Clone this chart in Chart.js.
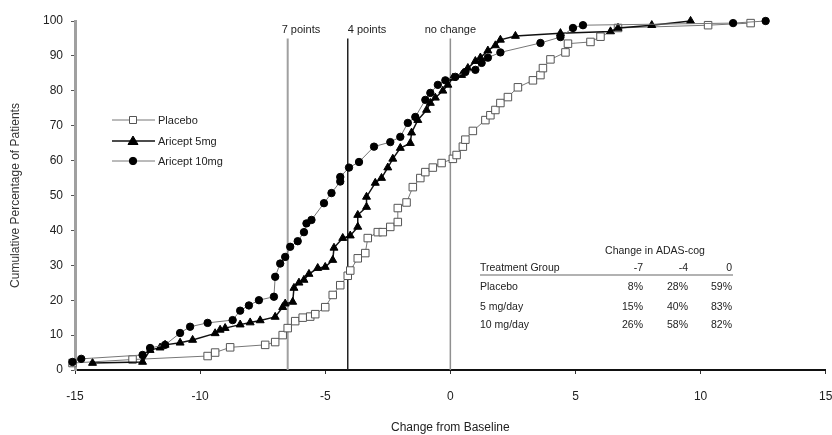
<!DOCTYPE html>
<html>
<head>
  <script src="https://cdn.jsdelivr.net/npm/chart.js"></script>
  <style>
    html, body { margin: 0; padding: 0; background: #fff; }
    #wrap { width: 832px; height: 435px; }
  </style>
</head>
<body>
  <div id="wrap"><canvas id="cdfChart" width="832" height="435"></canvas></div>
  <script>
    // series values
    const placeboX = [-15.1, -12.7, -9.7, -9.4, -8.8, -7.4, -7.0, -6.7, -6.5, -6.2, -5.9, -5.6, -5.4, -5.0, -4.7, -4.4, -4.1, -4.0, -3.7, -3.4, -3.3, -2.9, -2.7, -2.4, -2.1, -2.1, -1.75, -1.5, -1.2, -1.0, -0.7, -0.35, 0.1, 0.25, 0.5, 0.6, 0.9, 1.4, 1.6, 1.8, 2.0, 2.3, 2.7, 3.3, 3.6, 3.7, 4.0, 4.6, 4.7, 5.6, 6.0, 6.7, 10.3, 12.0];
    const placeboY = [2, 3, 4, 5, 6.5, 7.2, 8, 10, 12, 14, 15, 15.3, 16, 18, 21.5, 24.3, 27, 28.5, 32, 33.5, 37.8, 39.5, 39.5, 41, 42.4, 46.4, 48, 52.4, 55, 56.7, 58, 59.3, 60.5, 61.6, 64, 66, 68.5, 71.6, 73, 74.5, 76.5, 78.2, 81, 83, 84.5, 86.5, 89, 91, 93.5, 94, 95.5, 98, 98.8, 99.4];

    const mg5X = [-14.3, -12.3, -12.0, -11.6, -11.4, -10.8, -10.3, -9.4, -9.2, -9.0, -8.4, -8.0, -7.6, -7.0, -6.7, -6.6, -6.3, -6.25, -6.05, -5.85, -5.65, -5.3, -5.0, -4.7, -4.65, -4.3, -4.0, -3.7, -3.7, -3.35, -3.35, -3.0, -2.75, -2.5, -2.3, -2.0, -1.6, -1.55, -1.3, -0.95, -0.8, -0.6, -0.3, -0.1, 0.1, 0.45, 0.7, 1.0, 1.2, 1.5, 1.8, 2.0, 2.6, 4.4, 6.4, 6.7, 8.05, 9.6];
    const mg5Y = [2, 2.3, 5.7, 6.4, 7.2, 7.8, 8.6, 10.5, 11.5, 12, 13, 13.6, 14.2, 15.2, 18, 19, 19.5, 23.5, 25, 25.8, 27.5, 29.2, 29.5, 31.5, 35, 37.8, 38.5, 41, 44.4, 46.7, 49.6, 53.6, 55, 58, 60.5, 63.6, 65, 68, 71.6, 74.5, 76.5, 78, 80, 81.7, 83.7, 84.5, 86.5, 88.5, 89.5, 91.5, 93, 94.6, 95.7, 96.5, 97, 98, 98.8, 100];

    const mg10X = [-15.1, -14.75, -12.3, -12.0, -11.4, -10.8, -10.4, -9.7, -8.7, -8.4, -8.05, -7.65, -7.05, -7.0, -6.8, -6.6, -6.4, -6.1, -5.85, -5.75, -5.55, -5.05, -4.75, -4.4, -4.4, -4.05, -3.65, -3.05, -2.4, -2.0, -1.7, -1.4, -1.0, -0.8, -0.5, -0.2, 0.2, 0.6, 1.0, 1.25, 1.5, 2.0, 3.6, 4.4, 4.9, 5.3, 11.3, 12.6];
    const mg10Y = [2.3, 3.2, 4.3, 6.3, 7.2, 10.6, 12.4, 13.5, 14.3, 17, 18.5, 20, 21, 26.7, 30.5, 32.4, 35.3, 36.9, 39.5, 42, 43, 47.8, 50.7, 54, 55.3, 58, 59.6, 64, 65.3, 66.8, 70.8, 72.5, 77.4, 79.4, 81.7, 83, 84, 85.4, 86, 88, 89.5, 91, 93.7, 95.4, 98, 98.8, 99.4, 100];

    // reference lines (change in ADAS-cog)
    const refX = [-6.5, -4.1, 0];
    const refLabels = ['7 points', '4 points', 'no change'];
    const refTop = 95;

    const xTicks = [-15, -10, -5, 0, 5, 10, 15];
    const yTicks = [0, 10, 20, 30, 40, 50, 60, 70, 80, 90, 100];

    const seriesNames = ['Placebo', 'Aricept 5mg', 'Aricept 10mg'];

    // inset table
    const tableTitle = 'Change in ADAS-cog';
    const tableHead = ['Treatment Group', '-7', '-4', '0'];
    const tableGroups = ['Placebo', '5 mg/day', '10 mg/day'];
    const tableValues = [[8, 28, 59], [15, 40, 83], [26, 58, 82]];

    const FONT = 'Liberation Sans, Arial, sans-serif';

    function pts(xs, ys) {
      return xs.map((x, i) => ({ x: x, y: ys[i] }));
    }

    const curveStyle = [
      { line: '#777', width: 1, style: 'rect', radius: 5.3, fill: '#fff', border: '#555' },
      { line: '#111', width: 1.5, style: 'triangle', radius: 4.6, fill: '#000', border: '#000' },
      { line: '#777', width: 1, style: 'circle', radius: 3.7, fill: '#000', border: '#000' }
    ];

    const curves = [pts(placeboX, placeboY), pts(mg5X, mg5Y), pts(mg10X, mg10Y)].map((d, i) => ({
      label: seriesNames[i],
      data: d,
      showLine: true,
      clip: false,
      borderColor: curveStyle[i].line,
      borderWidth: curveStyle[i].width,
      pointStyle: curveStyle[i].style,
      pointRadius: curveStyle[i].radius,
      pointBackgroundColor: curveStyle[i].fill,
      pointBorderColor: curveStyle[i].border,
      pointBorderWidth: 1,
      tension: 0,
      order: 2 - i
    }));

    const refColors = ['#a0a0a0', '#222', '#909090'];
    const refWidths = [2, 1.5, 1.5];
    const refSets = refX.map((x, i) => ({
      label: refLabels[i],
      data: [{ x: x, y: 0 }, { x: x, y: refTop }],
      showLine: true,
      borderColor: refColors[i],
      borderWidth: refWidths[i],
      pointRadius: 0,
      order: 10
    }));

    // draws reference line labels, the legend and the table inside the plot
    const overlay = {
      id: 'overlay',
      afterDatasetsDraw(chart) {
        const ctx = chart.ctx;
        const xs = chart.scales.x, ys = chart.scales.y;
        ctx.save();
        ctx.fillStyle = '#222';
        ctx.font = '11px ' + FONT;
        ctx.textBaseline = 'middle';
        const labelY = ys.getPixelForValue(refTop) - 8;
        refX.forEach((x, i) => {
          const px = xs.getPixelForValue(x);
          if (i === 2) {
            ctx.textAlign = 'center';
            ctx.fillText(refLabels[i], px, labelY);
          } else {
            ctx.textAlign = 'left';
            ctx.fillText(refLabels[i], px - (i === 0 ? 6 : 0), labelY);
          }
        });

        // legend
        const legX = 112, legY = [120, 141, 161];
        seriesNames.forEach((name, i) => {
          const s = curveStyle[i];
          const y = legY[i];
          ctx.strokeStyle = s.line;
          ctx.lineWidth = s.width;
          ctx.beginPath();
          ctx.moveTo(legX, y);
          ctx.lineTo(legX + 43, y);
          ctx.stroke();
          const cx = legX + 21;
          ctx.fillStyle = s.fill;
          ctx.strokeStyle = s.border;
          ctx.lineWidth = 1;
          ctx.beginPath();
          if (s.style === 'rect') {
            ctx.rect(cx - 3.5, y - 3.5, 7, 7);
          } else if (s.style === 'triangle') {
            ctx.moveTo(cx, y - 5);
            ctx.lineTo(cx + 5, y + 3.5);
            ctx.lineTo(cx - 5, y + 3.5);
            ctx.closePath();
          } else {
            ctx.arc(cx, y, 3.7, 0, Math.PI * 2);
          }
          ctx.fill();
          ctx.stroke();
          ctx.fillStyle = '#222';
          ctx.textAlign = 'left';
          ctx.fillText(name, legX + 46, y + 1);
        });

        // table
        ctx.font = '10.5px ' + FONT;
        ctx.textAlign = 'center';
        ctx.fillText(tableTitle, 655, 251);
        ctx.textAlign = 'left';
        ctx.fillText(tableHead[0], 480, 268);
        const colX = [643, 688, 732];
        ctx.textAlign = 'right';
        for (let c = 0; c < 3; c++) ctx.fillText(tableHead[c + 1], colX[c], 268);
        ctx.strokeStyle = '#999';
        ctx.lineWidth = 1.5;
        ctx.beginPath();
        ctx.moveTo(480, 275);
        ctx.lineTo(733, 275);
        ctx.stroke();
        const rowY = [287, 307, 325];
        tableGroups.forEach((g, r) => {
          ctx.textAlign = 'left';
          ctx.fillText(g, 480, rowY[r]);
          ctx.textAlign = 'right';
          tableValues[r].forEach((v, c) => ctx.fillText(v + '%', colX[c], rowY[r]));
        });
        ctx.restore();
      }
    };

    new Chart(document.getElementById('cdfChart'), {
      type: 'scatter',
      data: { datasets: curves.concat(refSets) },
      options: {
        responsive: false,
        animation: false,
        layout: { padding: { top: 21, right: 4, bottom: 0, left: 0 } },
        plugins: { legend: { display: false }, tooltip: { enabled: false } },
        scales: {
          x: {
            type: 'linear',
            min: -15,
            max: 15,
            afterBuildTicks: s => { s.ticks = xTicks.map(v => ({ value: v })); },
            afterFit: s => { s.height = 65; s.paddingLeft = 0; s.paddingRight = 0; },
            border: { color: '#111', width: 2 },
            grid: { drawOnChartArea: false, tickLength: 4, color: '#333' },
            ticks: { color: '#222', padding: 15, font: { family: FONT, size: 12 } },
            title: {
              display: true,
              text: 'Change from Baseline',
              color: '#222',
              padding: { top: 0, bottom: 0 },
              font: { family: FONT, size: 12 }
            }
          },
          y: {
            min: 0,
            max: 100,
            afterBuildTicks: s => { s.ticks = yTicks.map(v => ({ value: v })); },
            afterFit: s => { s.width = 75; s.paddingTop = 0; s.paddingBottom = 0; },
            border: { color: '#a0a0a0', width: 3 },
            grid: { drawOnChartArea: false, tickLength: 4, color: '#555' },
            ticks: { color: '#222', padding: 8, font: { family: FONT, size: 12 } },
            title: {
              display: true,
              text: 'Cumulative Percentage of Patients',
              color: '#333',
              padding: { top: 8, bottom: 0 },
              font: { family: FONT, size: 12 }
            }
          }
        }
      },
      plugins: [overlay]
    });
  </script>
</body>
</html>
